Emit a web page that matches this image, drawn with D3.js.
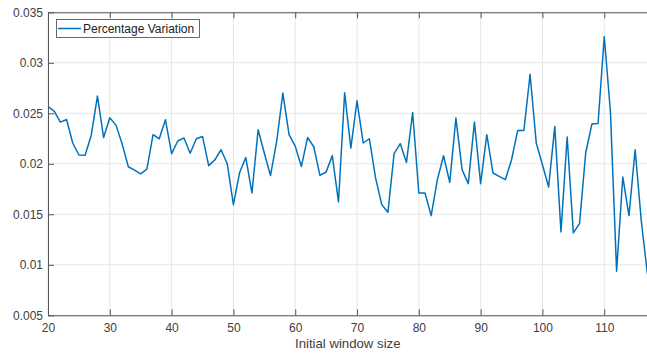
<!DOCTYPE html>
<html>
<head>
<meta charset="utf-8">
<script src="https://cdn.jsdelivr.net/npm/d3@7"></script>
<style>
  html, body { margin: 0; padding: 0; background: #fff; }
  svg { display: block; font-family: "Liberation Sans", Arial, sans-serif; }
</style>
</head>
<body>
<svg width="647" height="353"></svg>
<script>
// window sizes 20..117 and the variation
const windowSizes = [20,21,22,23,24,25,26,27,28,29,30,31,32,33,34,35,36,37,38,39,
  40,41,42,43,44,45,46,47,48,49,50,51,52,53,54,55,56,57,58,59,
  60,61,62,63,64,65,66,67,68,69,70,71,72,73,74,75,76,77,78,79,
  80,81,82,83,84,85,86,87,88,89,90,91,92,93,94,95,96,97,98,99,
  100,101,102,103,104,105,106,107,108,109,110,111,112,113,114,115,116,117];
const variation = [0.02567,0.02522,0.02413,0.02439,0.02206,0.02087,0.02085,0.02283,0.02671,0.0226,
  0.02456,0.02383,0.02195,0.01971,0.01937,0.01901,0.01947,0.02288,0.02248,0.02437,
  0.021,0.02226,0.02256,0.02105,0.02248,0.02271,0.01982,0.02039,0.02139,0.02001,
  0.01596,0.01912,0.02063,0.01711,0.02337,0.02107,0.01884,0.02221,0.027,0.02288,
  0.02175,0.01974,0.0226,0.02169,0.01885,0.01919,0.02081,0.01623,0.02703,0.02156,
  0.02624,0.02206,0.02248,0.0186,0.01596,0.0152,0.021,0.02199,0.02014,0.02508,
  0.01711,0.01711,0.01487,0.01843,0.0208,0.01816,0.02453,0.01942,0.01803,0.02413,
  0.01803,0.02288,0.01909,0.01876,0.01843,0.0204,0.0233,0.0233,0.02887,0.02206,
  0.01991,0.01771,0.0237,0.01326,0.02265,0.01316,0.01408,0.02107,0.02393,0.02399,
  0.03259,0.02518,0.00937,0.0187,0.01487,0.02139,0.01431,0.00904];

const xTicks = [20,30,40,50,60,70,80,90,100,110];
const yTicks = [0.005,0.01,0.015,0.02,0.025,0.03,0.035];
const yTickLabels = ["0.005","0.01","0.015","0.02","0.025","0.03","0.035"];
const seriesName = "Percentage Variation";
const xTitle = "Initial window size";

const svg = d3.select("svg");
const m = {left: 48, right: 647.5, top: 12.3, bottom: 315.3};

const x = d3.scaleLinear().domain([20, 117]).range([m.left, m.right]);
const y = d3.scaleLinear().domain([0.005, 0.035]).range([m.bottom, m.top]);

// grid
const grid = svg.append("g").attr("stroke", "#e6e6e6").attr("stroke-width", 1);
grid.selectAll("line.v").data(xTicks).enter().append("line")
  .attr("x1", d => x(d)).attr("x2", d => x(d)).attr("y1", m.top).attr("y2", m.bottom);
grid.selectAll("line.h").data(yTicks).enter().append("line")
  .attr("x1", m.left).attr("x2", m.right).attr("y1", d => y(d)).attr("y2", d => y(d));

// series
svg.append("clipPath").attr("id", "clip").append("rect")
  .attr("x", m.left).attr("y", m.top).attr("width", m.right - m.left).attr("height", m.bottom - m.top);
const line = d3.line().x((d, i) => x(windowSizes[i])).y(d => y(d));
svg.append("path")
  .datum(variation)
  .attr("clip-path", "url(#clip)")
  .attr("fill", "none")
  .attr("stroke", "#0072BD")
  .attr("stroke-width", 1.5)
  .attr("stroke-linejoin", "round")
  .attr("d", line);

// axes, ticks inward like matlab
const axisColor = "#555", textColor = "#404040";
const xAxis = svg.append("g").attr("transform", `translate(0,${m.bottom})`)
  .call(d3.axisBottom(x).tickValues(xTicks).tickSizeInner(-6).tickSizeOuter(0).tickPadding(8));
const yAxis = svg.append("g").attr("transform", `translate(${m.left},0)`)
  .call(d3.axisLeft(y).tickValues(yTicks).tickFormat((d, i) => yTickLabels[i])
    .tickSizeInner(-6).tickSizeOuter(0).tickPadding(5));
const topAxis = svg.append("g").attr("transform", `translate(0,${m.top})`)
  .call(d3.axisTop(x).tickValues(xTicks).tickSizeInner(-6).tickSizeOuter(0).tickFormat(""));

[xAxis, yAxis, topAxis].forEach(g => {
  g.select(".domain").attr("stroke", axisColor);
  g.selectAll(".tick line").attr("stroke", axisColor);
  g.selectAll(".tick text").attr("fill", textColor)
    .style("font-size", "12px").style("font-family", "'Liberation Sans', Arial, sans-serif");
});

svg.append("text")
  .attr("x", (m.left + m.right) / 2).attr("y", 348)
  .attr("text-anchor", "middle")
  .attr("fill", textColor)
  .style("font-size", "13.2px")
  .text(xTitle);

// legend
const lg = svg.append("g");
lg.append("rect").attr("x", 56.5).attr("y", 19.5).attr("width", 143).attr("height", 18)
  .attr("fill", "#fff").attr("stroke", "#444").attr("stroke-width", 0.8);
lg.append("line").attr("x1", 58).attr("x2", 81).attr("y1", 28.5).attr("y2", 28.5)
  .attr("stroke", "#0072BD").attr("stroke-width", 1.5);
lg.append("text").attr("x", 83).attr("y", 33).attr("fill", "#222")
  .style("font-size", "12px").text(seriesName);
</script>
</body>
</html>
